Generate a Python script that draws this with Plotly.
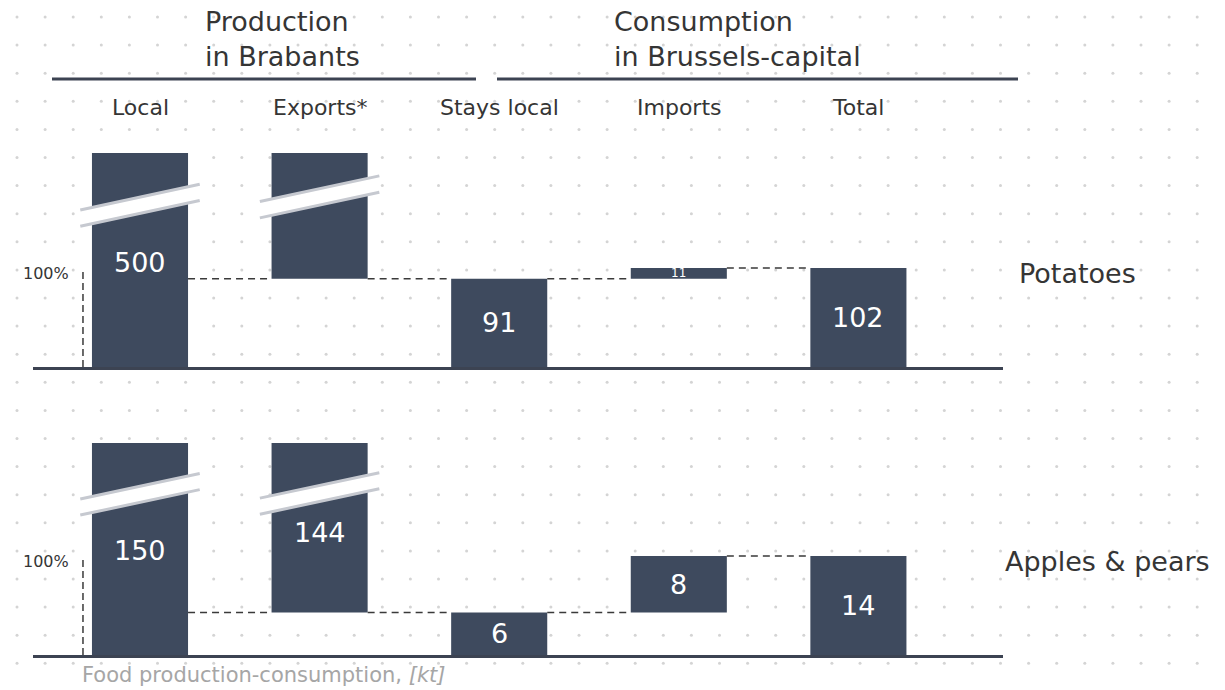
import numpy as np
import plotly.graph_objects as go

W, H = 1225, 690

# ---- data (kt) ----
steps = ["Local", "Exports*", "Stays local", "Imports", "Total"]
products = ["Potatoes", "Apples & pears"]
local = [500, 150]
exports = [409, 144]
stays_local = [91, 6]
imports = [11, 8]
total = [102, 14]
# which values are printed on the bars
show_label = [[True, False, True, True, True],
              [True, True, True, True, True]]

# ---- style ----
BAR = "#3e4a5e"
INK = "#353535"
LINE = "#3c4352"
DASH = "#3a3a3a"
DOT = "#d4d4d4"
FONT = "DejaVu Sans"

panel_top = [153, 443]      # pixel top of each panel
panel_base = [367, 655]     # pixel baseline of each panel
x_left, x_right = 33, 1003  # baseline extent (px)
col0, col_step = 140, 179.6 # first bar centre and spacing (px)
total_px = 99               # drawn height of the total bar (px)
bar_w = 0.535
x_rng = [(x_left - col0) / col_step, (x_right - col0) / col_step]

# axis-break bands: centre height (domain fraction) per broken column
break_mid = [[0.756, 0.795], [0.758, 0.762]]
break_rise = 0.12
break_half = 0.038
break_over = 0.065

row_label_x = [1017, 1003]
broken_label_y = [[0.486, None], [0.495, 0.58]]

fig = go.Figure()

# dotted background texture on a full-page overlay axis
gx, gy = np.meshgrid(np.arange(17, W, 28.1), np.arange(17, H, 28.1))
fig.add_trace(go.Scatter(x=gx.ravel(), y=gy.ravel(), mode="markers",
                         marker=dict(size=3, color=DOT), hoverinfo="skip",
                         showlegend=False, xaxis="x", yaxis="y"))

layout = dict(
    width=W, height=H, margin=dict(l=0, r=0, t=0, b=0),
    paper_bgcolor="white", plot_bgcolor="rgba(0,0,0,0)",
    showlegend=False, font=dict(family=FONT, color=INK),
    xaxis=dict(domain=[0, 1], range=[0, W], visible=False, fixedrange=True),
    yaxis=dict(domain=[0, 1], range=[H, 0], visible=False, fixedrange=True),
)

shapes = []
annotations = []

for p in range(len(products)):
    xa, ya = f"x{p + 2}", f"y{p + 2}"
    y_top = total[p] * (panel_base[p] - panel_top[p]) / total_px
    px_per_unit = total_px / total[p]

    layout[f"xaxis{p + 2}"] = dict(
        domain=[x_left / W, x_right / W], range=x_rng, anchor=ya,
        showline=True, linecolor=LINE, linewidth=3, showgrid=False,
        zeroline=False, showticklabels=False, ticks="", fixedrange=True)
    layout[f"yaxis{p + 2}"] = dict(
        domain=[1 - panel_base[p] / H, 1 - panel_top[p] / H],
        range=[0, y_top], anchor=xa, visible=False, fixedrange=True)

    heights = [local[p], exports[p], stays_local[p], imports[p], total[p]]
    bases = [0, local[p] - exports[p], 0, stays_local[p], 0]
    xs = list(range(len(steps)))

    fig.add_trace(go.Bar(x=xs, y=heights, base=bases, width=bar_w,
                         marker=dict(color=BAR, line=dict(width=0)),
                         hoverinfo="skip", xaxis=xa, yaxis=ya))

    # dashed connectors between consecutive steps
    levels = [bases[1], bases[1], stays_local[p], stays_local[p] + imports[p]]
    cx, cy = [], []
    for i, lv in enumerate(levels):
        cx += [i + bar_w / 2, i + 1 - bar_w / 2, None]
        cy += [lv, lv, None]
    fig.add_trace(go.Scatter(x=cx, y=cy, mode="lines",
                             line=dict(color=DASH, width=1.5, dash="7px,5px"),
                             hoverinfo="skip", xaxis=xa, yaxis=ya))

    # 100 % reference marker
    mx = -bar_w / 2 - 0.05
    fig.add_trace(go.Scatter(x=[mx, mx], y=[0, total[p]], mode="lines",
                             line=dict(color=DASH, width=1.5, dash="7px,4px"),
                             hoverinfo="skip", xaxis=xa, yaxis=ya))
    annotations.append(dict(x=mx, y=total[p], xref=xa, yref=ya, text="100%",
                            showarrow=False, xanchor="right", yanchor="middle",
                            xshift=-12, yshift=-5,
                            font=dict(size=16, color=INK)))

    # axis-break bands on the two clipped bars
    for c in range(2):
        x0 = c - bar_w / 2 - break_over
        x1 = c + bar_w / 2 + break_over
        m = break_mid[p][c]
        yl, yr = m - break_rise / 2, m + break_rise / 2
        path = (f"M {x0},{yl - break_half} L {x1},{yr - break_half} "
                f"L {x1},{yr + break_half} L {x0},{yl + break_half} Z")
        shapes.append(dict(type="path", path=path, xref=xa, yref=f"{ya} domain",
                           fillcolor="white", line=dict(width=0), layer="above"))
        for s in (-1, 1):
            shapes.append(dict(type="line", xref=xa, yref=f"{ya} domain",
                               x0=x0, x1=x1, y0=yl + s * break_half,
                               y1=yr + s * break_half, layer="above",
                               line=dict(color="#c6c9d0", width=3)))

    # value labels
    for i, (h, b) in enumerate(zip(heights, bases)):
        if not show_label[p][i]:
            continue
        if i < 2:
            annotations.append(dict(x=i, y=broken_label_y[p][i], xref=xa,
                                    yref=f"{ya} domain", yanchor="middle",
                                    text=str(h), showarrow=False,
                                    font=dict(size=27, color="white")))
        else:
            size = 27 if h * px_per_unit > 30 else 12
            annotations.append(dict(x=i, y=b + h / 2, xref=xa, yref=ya,
                                    yanchor="middle", text=str(h),
                                    showarrow=False,
                                    font=dict(size=size, color="white")))

    # product label
    annotations.append(dict(x=row_label_x[p] / W, xref="paper", xanchor="left",
                            y=total[p], yref=ya, yanchor="middle", yshift=-5,
                            text=products[p], showarrow=False,
                            font=dict(size=27, color=INK)))

# column headers
for i, s in enumerate(steps):
    annotations.append(dict(x=i, xref="x2", y=1 - 107 / H, yref="paper",
                            yanchor="middle", text=s, showarrow=False,
                            font=dict(size=22, color=INK)))

# group headers with rules underneath
for tx, txt, (l0, l1) in [(203, "Production<br>in Brabants", (52, 476)),
                          (612, "Consumption<br>in Brussels-capital", (497, 1018))]:
    annotations.append(dict(x=tx / W, xref="paper", xanchor="left",
                            y=1 - 39 / H, yref="paper", yanchor="middle",
                            align="left", text=txt, showarrow=False,
                            font=dict(size=27, color=INK)))
    shapes.append(dict(type="line", xref="paper", yref="paper",
                       x0=l0 / W, x1=l1 / W, y0=1 - 79 / H, y1=1 - 79 / H,
                       line=dict(color=LINE, width=3)))

annotations.append(dict(x=80 / W, xref="paper", xanchor="left",
                        y=1 - 675 / H, yref="paper", yanchor="middle",
                        text="Food production-consumption, <i>[kt]</i>",
                        showarrow=False, font=dict(size=21, color="#a6a6a6")))

layout["shapes"] = shapes
layout["annotations"] = annotations
fig.update_layout(**layout)

fig.write_html("out.html", config={"displayModeBar": False})
